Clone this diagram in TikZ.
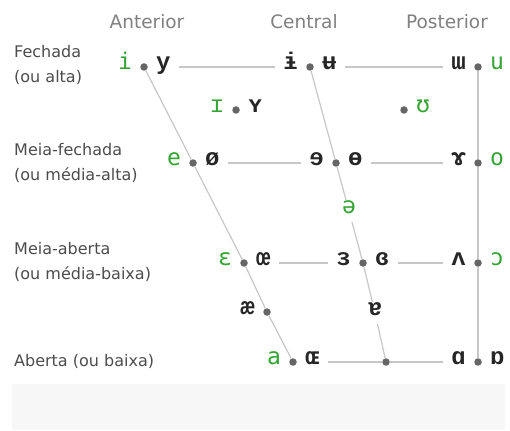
\documentclass[tikz,border=0pt]{standalone}
\usepackage{fontspec}
\setmainfont{DejaVu Sans}
\newfontfamily\ipafont{Liberation Mono}
\newfontfamily\ipagreen{DejaVu Sans Mono}
\usetikzlibrary{positioning}
\definecolor{vgreen}{RGB}{52,165,52}
\tikzset{
  dot/.style = {circle, fill=black!60, inner sep=0, minimum size=7.5pt},
  sym/.style = {inner sep=0, text height=1ex, text depth=0pt, text=black!85,
                font=\fontsize{24}{24}\selectfont\ipafont\bfseries},
  gsym/.style = {sym, text=vgreen,
                font=\fontsize{23}{23}\selectfont\ipagreen},
  gap/.style = {inner sep=8pt},
  head/.style = {text=black!50, font=\fontsize{18.5}{18.5}\selectfont},
  rowlab/.style = {anchor=west, align=left, inner sep=0, text=black!70,
                font=\fontsize{16}{25}\selectfont},
  rule/.style = {draw=black!22, line width=1.2pt},
  hline/.style = {rule, shorten <=8pt, shorten >=8pt},
}

\begin{document}
\begin{tikzpicture}[x=1pt,y=-1pt]
\useasboundingbox (0,0) rectangle (510,430);
\fill[black!3] (12,384) rectangle (505,430);

% column and row headings
\node[head] (ant) at (147,22) {Anterior};
\node[head] (cen) at (304,22) {Central};
\node[head] (pos) at (447,22) {Posterior};
\node[rowlab] (close) at (14,65) {Fechada\\(ou alta)};
\node[rowlab] (closemid) at (14,163) {Meia-fechada\\(ou média-alta)};
\node[rowlab] (openmid) at (14,262) {Meia-aberta\\(ou média-baixa)};
\node[rowlab] (open) at (14,361) {Aberta (ou baixa)};

% vowel points
\node[dot] (cl-f) at (144,67) {};
\node[dot] (cl-c) at (310,67) {};
\node[dot] (cl-b) at (478,67) {};
\node[dot] (ncl-f) at (236,110) {};
\node[dot] (ncl-b) at (404,110) {};
\node[dot] (cm-f) at (193,163) {};
\node[dot] (cm-c) at (336,163) {};
\node[dot] (cm-b) at (478,163) {};
\node[dot] (om-f) at (244,263) {};
\node[dot] (om-c) at (363,263) {};
\node[dot] (om-b) at (478,263) {};
\node[dot] (nop-f) at (267,312) {};
\node[dot] (op-f) at (293,362) {};
\node[dot] (op-c) at (386,362) {};
\node[dot] (op-b) at (478,362) {};

% symbols
\node[gsym, left=8pt of cl-f] (i) {i};
\node[sym, right=8pt of cl-f] (y) {y};
\node[sym, left=8pt of cl-c] (barredi) {ɨ};
\node[sym, right=8pt of cl-c] (barredu) {ʉ};
\node[sym, left=8pt of cl-b] (turnedm) {ɯ};
\node[gsym, right=8pt of cl-b] (u) {u};
\node[gsym, left=8pt of ncl-f] (capi) {ɪ};
\node[sym, right=8pt of ncl-f] (capy) {ʏ};
\node[gsym, right=8pt of ncl-b] (upsilon) {ʊ};
\node[gsym, left=8pt of cm-f] (e) {e};
\node[sym, right=8pt of cm-f] (oslash) {ø};
\node[sym, left=8pt of cm-c] (reve) {ɘ};
\node[sym, right=8pt of cm-c] (barredo) {ɵ};
\node[sym, left=8pt of cm-b] (ramshorn) {ɤ};
\node[gsym, right=8pt of cm-b] (o) {o};
\node[gsym, gap] (schwa) at (349,211) {ə};
\node[gsym, left=8pt of om-f] (epsilon) {ɛ};
\node[sym, right=8pt of om-f] (oe) {œ};
\node[sym, left=8pt of om-c] (reveps) {ɜ};
\node[sym, right=8pt of om-c] (closedeps) {ɞ};
\node[sym, left=8pt of om-b] (turnedv) {ʌ};
\node[gsym, right=8pt of om-b] (openo) {ɔ};
\node[sym, left=8pt of nop-f] (ae) {æ};
\node[sym, gap] (turneda) at (375,313) {ɐ};
\node[gsym, left=8pt of op-f] (a) {a};
\node[sym, right=8pt of op-f] (capoe) {ɶ};
\node[sym, left=8pt of op-b] (alpha) {ɑ};
\node[sym, right=8pt of op-b] (turnedalpha) {ɒ};

% frame of the chart
\path[rule] (cl-f) -- (cm-f) -- (om-f) -- (nop-f) -- (op-f);
\path[rule] (cl-c) -- (cm-c) -- (schwa);
\path[rule] (schwa) -- (om-c) -- (turneda);
\path[rule] (turneda) -- (op-c);
\path[rule] (cl-b) -- (cm-b) -- (om-b) -- (op-b);
\path[hline] (y) -- (barredi);
\path[hline] (barredu) -- (turnedm);
\path[hline] (oslash) -- (reve);
\path[hline] (barredo) -- (ramshorn);
\path[hline] (oe) -- (reveps);
\path[hline] (closedeps) -- (turnedv);
\path[rule, shorten <=8pt] (capoe) -- (op-c);
\path[rule, shorten >=8pt] (op-c) -- (alpha);
\end{tikzpicture}
\end{document}
